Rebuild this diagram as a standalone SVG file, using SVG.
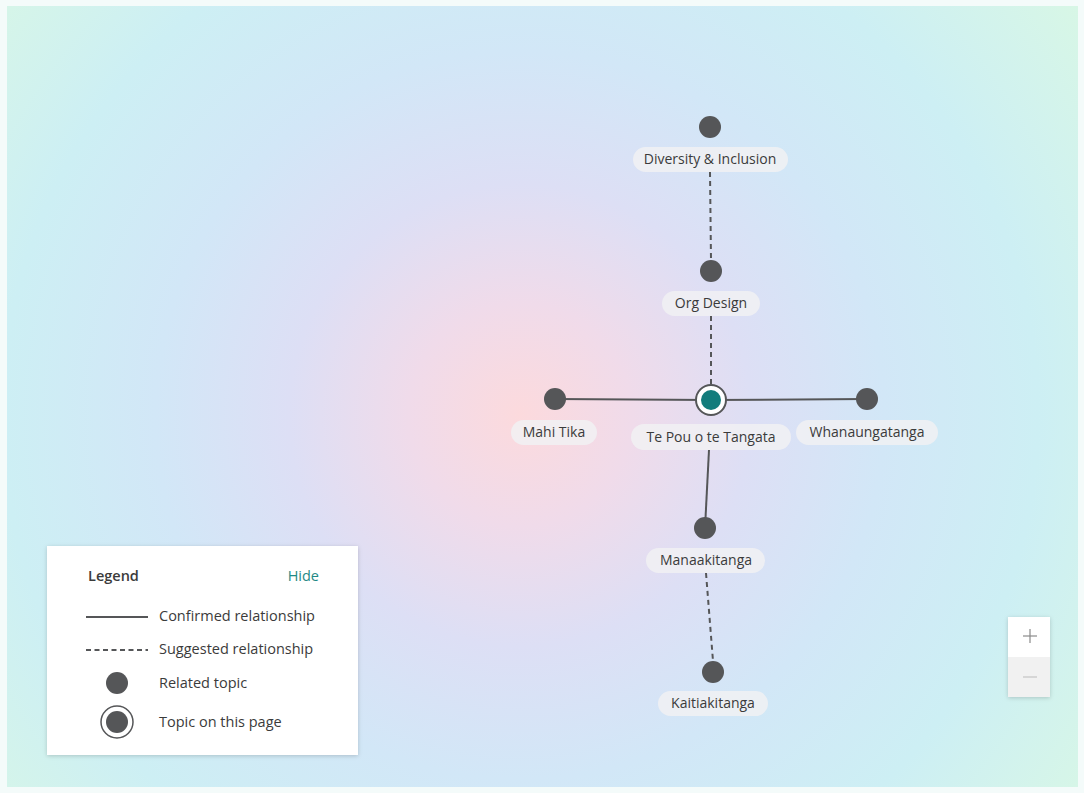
<svg xmlns="http://www.w3.org/2000/svg" width="1084" height="793" viewBox="0 0 1084 793">
<defs>
<radialGradient id="bg" cx="520" cy="415" r="700" gradientUnits="userSpaceOnUse">
<stop offset="0" stop-color="#fcdadd"/>
<stop offset="0.16" stop-color="#f0dbea"/>
<stop offset="0.33" stop-color="#dddff5"/>
<stop offset="0.52" stop-color="#d2e7f7"/>
<stop offset="0.74" stop-color="#cdeff4"/>
<stop offset="1" stop-color="#d8f7e5"/>
</radialGradient>
<filter id="sh" x="-10%" y="-10%" width="120%" height="130%">
<feDropShadow dx="0" dy="1" stdDeviation="2" flood-color="#000" flood-opacity="0.18"/>
</filter>
</defs>
<style>
.lbl{font-family:"Open Sans","Noto Sans","Liberation Sans",sans-serif;font-size:14px;fill:#3b3b3b;text-anchor:middle}
.pill{fill:#f1f1f3;fill-opacity:0.85}
.dot{fill:#555658}
.solid{stroke:#555658;stroke-width:2;fill:none}
.dash{stroke:#555658;stroke-width:2;fill:none;stroke-dasharray:5 4}
.leg{font-family:"Open Sans","Noto Sans","Liberation Sans",sans-serif;font-size:14.5px;fill:#3b3b3b}
</style>
<rect x="0" y="0" width="1084" height="793" fill="#f4fbfa"/>
<rect x="7" y="6" width="1071" height="781" fill="url(#bg)"/>

<g id="connectors">
<line class="solid" x1="555" y1="399" x2="710" y2="400"/>
<line class="solid" x1="710" y1="400" x2="867" y2="399"/>
<line class="solid" x1="709" y1="450" x2="705" y2="528"/>
<line class="dash" x1="710" y1="172" x2="711" y2="260"/>
<line class="dash" x1="711" y1="316" x2="711" y2="384"/>
<line class="dash" x1="706" y1="573" x2="713" y2="661"/>
</g>

<g id="node-diversity">
<circle class="dot" cx="710" cy="127" r="11"/>
<rect class="pill" x="633" y="147" width="155" height="25" rx="12.5"/>
<text class="lbl" x="710" y="164">Diversity &amp; Inclusion</text>
</g>
<g id="node-org">
<circle class="dot" cx="711" cy="271" r="11"/>
<rect class="pill" x="662" y="291" width="98" height="25" rx="12.5"/>
<text class="lbl" x="711" y="308">Org Design</text>
</g>
<g id="node-mahi">
<circle class="dot" cx="555" cy="399" r="11"/>
<rect class="pill" x="511" y="420" width="86" height="25" rx="12.5"/>
<text class="lbl" x="554" y="437">Mahi Tika</text>
</g>
<g id="node-whanau">
<circle class="dot" cx="867" cy="399" r="11"/>
<rect class="pill" x="796" y="420" width="142" height="25" rx="12.5"/>
<text class="lbl" x="867" y="437">Whanaungatanga</text>
</g>
<g id="node-central">
<circle cx="711" cy="400" r="15" fill="#ffffff" stroke="#555658" stroke-width="2"/>
<circle cx="711" cy="400" r="10" fill="#127c7c"/>
<rect class="pill" x="631" y="424" width="160" height="26" rx="13"/>
<text class="lbl" x="711" y="442">Te Pou o te Tangata</text>
</g>
<g id="node-manaaki">
<circle class="dot" cx="705" cy="528" r="11"/>
<rect class="pill" x="646" y="548" width="119" height="25" rx="12.5"/>
<text class="lbl" x="706" y="565">Manaakitanga</text>
</g>
<g id="node-kaitiaki">
<circle class="dot" cx="713" cy="672" r="11"/>
<rect class="pill" x="658" y="691" width="110" height="25" rx="12.5"/>
<text class="lbl" x="713" y="708">Kaitiakitanga</text>
</g>

<g id="legend">
<rect x="47" y="546" width="311" height="209" fill="#ffffff" filter="url(#sh)"/>
<text class="leg" x="88" y="581" font-weight="600">Legend</text>
<text class="leg" x="319" y="581" text-anchor="end" style="fill:#1f8a86">Hide</text>
<line class="solid" x1="86" y1="617" x2="148" y2="617"/>
<text class="leg" x="159" y="621">Confirmed relationship</text>
<line class="dash" x1="86" y1="650" x2="148" y2="650" style="stroke-dasharray:5 3.5"/>
<text class="leg" x="159" y="654">Suggested relationship</text>
<circle class="dot" cx="117" cy="683" r="11"/>
<text class="leg" x="159" y="688">Related topic</text>
<circle cx="117" cy="722" r="16" fill="#ffffff" stroke="#555658" stroke-width="1.5"/>
<circle class="dot" cx="117" cy="722" r="11"/>
<text class="leg" x="159" y="727">Topic on this page</text>
</g>

<g id="zoom-control">
<rect x="1008" y="617" width="42" height="80" fill="#ffffff" filter="url(#sh)"/>
<rect x="1008" y="657" width="42" height="40" fill="#f1f1f1"/>
<line x1="1023" y1="636" x2="1037" y2="636" stroke="#8a8a8a" stroke-width="1.2"/>
<line x1="1030" y1="629" x2="1030" y2="643" stroke="#8a8a8a" stroke-width="1.2"/>
<line x1="1023" y1="677" x2="1037" y2="677" stroke="#c4c4c4" stroke-width="1.2"/>
</g>
</svg>
